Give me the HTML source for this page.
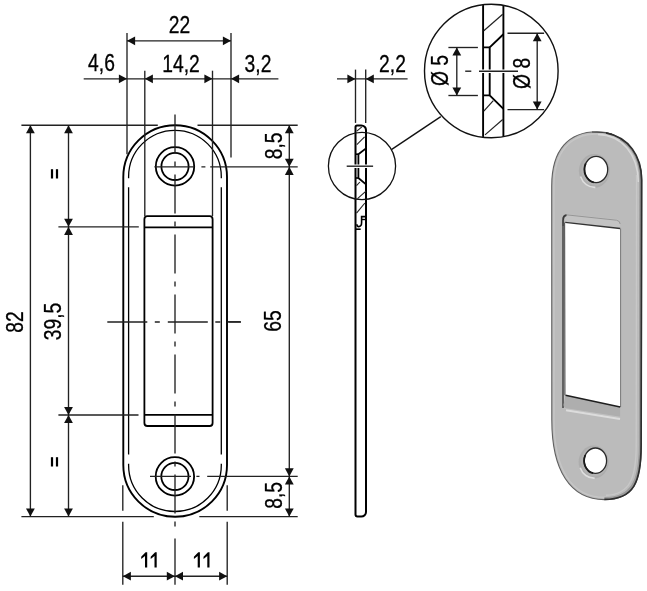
<!DOCTYPE html>
<html><head><meta charset="utf-8"><style>
html,body{margin:0;padding:0;background:#fff;}
svg{display:block;}
text{font-family:"Liberation Sans",sans-serif;fill:#000;stroke:#000;stroke-width:0.3px;}
svg{will-change:transform;}
</style></head><body>
<svg width="647" height="591" viewBox="0 0 647 591">
<rect width="647" height="591" fill="#fff"/>
<path d="M123.3,177.05 A51.85,51.85 0 0 1 227.0,177.05 L227.0,464.94999999999993 A51.85,51.85 0 0 1 123.3,464.94999999999993 Z" fill="none" stroke="#000" stroke-width="1.9"/>
<path d="M128.6,178.15000000000003 L128.6,176.65000000000003 A46.35000000000001,46.35000000000001 0 0 1 221.3,176.65000000000003 L221.3,178.15000000000003" fill="none" stroke="#000" stroke-width="1.3"/>
<path d="M221.3,463.65 L221.3,465.15 A46.35000000000001,46.35000000000001 0 0 1 128.6,465.15 L128.6,463.65" fill="none" stroke="#000" stroke-width="1.3"/>
<line x1="128.6" y1="187.2" x2="128.6" y2="454.5" stroke="#000" stroke-width="1.3" />
<line x1="221.3" y1="187.2" x2="221.3" y2="454.5" stroke="#000" stroke-width="1.3" />
<circle cx="175.0" cy="166.4" r="19.2" fill="none" stroke="#000" stroke-width="1.8"/>
<circle cx="175.0" cy="166.4" r="13.6" fill="none" stroke="#000" stroke-width="1.8"/>
<circle cx="174.9" cy="476.4" r="19.2" fill="none" stroke="#000" stroke-width="1.8"/>
<circle cx="174.9" cy="476.4" r="13.6" fill="none" stroke="#000" stroke-width="1.8"/>
<rect x="144.4" y="216.2" width="68.19999999999999" height="209.8" rx="3" ry="3" fill="none" stroke="#000" stroke-width="1.8"/>
<line x1="144.4" y1="227.4" x2="212.6" y2="227.4" stroke="#000" stroke-width="1.8" />
<line x1="144.4" y1="414.9" x2="212.6" y2="414.9" stroke="#000" stroke-width="1.8" />
<line x1="175" y1="114.4" x2="175" y2="529" stroke="#222" stroke-width="1.35" stroke-dasharray="39 8 5 8"/>
<line x1="107.3" y1="322" x2="241" y2="322" stroke="#222" stroke-width="1.35" stroke-dasharray="40 7.5 5 8"/>
<line x1="154.4" y1="166.8" x2="210.2" y2="166.8" stroke="#222" stroke-width="1.35" stroke-dasharray="40 7 4 6"/>
<line x1="210.2" y1="166.8" x2="297.7" y2="166.8" stroke="#222" stroke-width="1.35" />
<line x1="150" y1="476.4" x2="207.2" y2="476.4" stroke="#222" stroke-width="1.35" stroke-dasharray="41 5.4 3.1 7.7"/>
<line x1="207.2" y1="476.4" x2="297.7" y2="476.4" stroke="#222" stroke-width="1.35" />
<line x1="127" y1="33" x2="127" y2="154.3" stroke="#222" stroke-width="1.35" />
<line x1="231" y1="33" x2="231" y2="157.5" stroke="#222" stroke-width="1.35" />
<line x1="144.8" y1="70.7" x2="144.8" y2="216" stroke="#222" stroke-width="1.35" />
<line x1="212.5" y1="70.7" x2="212.5" y2="216" stroke="#222" stroke-width="1.35" />
<line x1="127" y1="40.8" x2="231" y2="40.8" stroke="#222" stroke-width="1.35" />
<polygon points="127.0,40.8 135.1,36.4 135.1,45.2" fill="#111"/>
<polygon points="231.0,40.8 222.9,36.4 222.9,45.2" fill="#111"/>
<line x1="83.7" y1="78.8" x2="278.4" y2="78.8" stroke="#222" stroke-width="1.35" />
<polygon points="127.0,78.8 118.9,74.4 118.9,83.2" fill="#111"/>
<polygon points="144.8,78.8 152.9,74.4 152.9,83.2" fill="#111"/>
<polygon points="212.5,78.8 204.4,74.4 204.4,83.2" fill="#111"/>
<polygon points="231.0,78.8 239.1,74.4 239.1,83.2" fill="#111"/>
<text transform="translate(179.5,25) rotate(0) scale(0.82,1)" x="0" y="8.34" font-size="23.5" text-anchor="middle">22</text>
<text transform="translate(101.5,62.5) rotate(0) scale(0.82,1)" x="0" y="8.34" font-size="23.5" text-anchor="middle">4,6</text>
<text transform="translate(181,63.4) rotate(0) scale(0.82,1)" x="0" y="8.34" font-size="23.5" text-anchor="middle">14,2</text>
<text transform="translate(258,63.4) rotate(0) scale(0.82,1)" x="0" y="8.34" font-size="23.5" text-anchor="middle">3,2</text>
<line x1="21.4" y1="125.2" x2="157.8" y2="125.2" stroke="#222" stroke-width="1.35" />
<line x1="197.5" y1="125.2" x2="297.7" y2="125.2" stroke="#222" stroke-width="1.35" />
<line x1="21.4" y1="516.6" x2="153.8" y2="516.6" stroke="#222" stroke-width="1.35" />
<line x1="199.3" y1="516.6" x2="297.7" y2="516.6" stroke="#222" stroke-width="1.35" />
<line x1="58.4" y1="226.8" x2="138.8" y2="226.8" stroke="#222" stroke-width="1.35" />
<line x1="58.4" y1="415" x2="138.5" y2="415" stroke="#222" stroke-width="1.35" />
<line x1="30.4" y1="125.2" x2="30.4" y2="516.6" stroke="#222" stroke-width="1.35" />
<polygon points="30.4,125.2 26.0,133.3 34.8,133.3" fill="#111"/>
<polygon points="30.4,516.6 26.0,508.5 34.8,508.5" fill="#111"/>
<line x1="68.5" y1="125.2" x2="68.5" y2="516.6" stroke="#222" stroke-width="1.35" />
<polygon points="68.5,125.2 64.1,133.3 72.9,133.3" fill="#111"/>
<polygon points="68.5,226.8 64.1,218.7 72.9,218.7" fill="#111"/>
<polygon points="68.5,226.8 64.1,234.9 72.9,234.9" fill="#111"/>
<polygon points="68.5,415.0 64.1,406.9 72.9,406.9" fill="#111"/>
<polygon points="68.5,415.0 64.1,423.1 72.9,423.1" fill="#111"/>
<polygon points="68.5,516.6 64.1,508.5 72.9,508.5" fill="#111"/>
<text transform="translate(15,322) rotate(-90) scale(0.82,1)" x="0" y="8.34" font-size="23.5" text-anchor="middle">82</text>
<text transform="translate(52.3,321.5) rotate(-90) scale(0.82,1)" x="0" y="8.34" font-size="23.5" text-anchor="middle">39,5</text>
<rect x="50.9" y="169.2" width="2.2" height="9.3" fill="#000"/>
<rect x="55.9" y="169.2" width="2.2" height="9.3" fill="#000"/>
<rect x="50.9" y="457.2" width="2.2" height="9.3" fill="#000"/>
<rect x="55.9" y="457.2" width="2.2" height="9.3" fill="#000"/>
<line x1="289.3" y1="125.2" x2="289.3" y2="516.6" stroke="#222" stroke-width="1.35" />
<polygon points="289.3,125.2 284.9,133.3 293.7,133.3" fill="#111"/>
<polygon points="289.3,166.8 284.9,158.7 293.7,158.7" fill="#111"/>
<polygon points="289.3,166.8 284.9,174.9 293.7,174.9" fill="#111"/>
<polygon points="289.3,476.4 284.9,468.3 293.7,468.3" fill="#111"/>
<polygon points="289.3,476.4 284.9,484.5 293.7,484.5" fill="#111"/>
<polygon points="289.3,516.6 284.9,508.5 293.7,508.5" fill="#111"/>
<text transform="translate(273.5,145.8) rotate(-90) scale(0.82,1)" x="0" y="8.34" font-size="23.5" text-anchor="middle">8,5</text>
<text transform="translate(273,321) rotate(-90) scale(0.82,1)" x="0" y="8.34" font-size="23.5" text-anchor="middle">65</text>
<text transform="translate(273.5,495.3) rotate(-90) scale(0.82,1)" x="0" y="8.34" font-size="23.5" text-anchor="middle">8,5</text>
<line x1="227.6" y1="321.8" x2="240.5" y2="321.8" stroke="#222" stroke-width="1.35" />
<line x1="122.8" y1="485.3" x2="122.8" y2="584.8" stroke="#222" stroke-width="1.35" stroke-dasharray="25.5 11 70"/>
<line x1="227.2" y1="485.3" x2="227.2" y2="584.8" stroke="#222" stroke-width="1.35" stroke-dasharray="25.5 11 70"/>
<line x1="122.8" y1="576.2" x2="227.2" y2="576.2" stroke="#222" stroke-width="1.35" />
<line x1="175" y1="538.4" x2="175" y2="584.8" stroke="#222" stroke-width="1.35" />
<polygon points="122.8,576.2 130.9,571.8 130.9,580.6" fill="#111"/>
<polygon points="174.9,576.2 166.8,571.8 166.8,580.6" fill="#111"/>
<polygon points="174.9,576.2 183.0,571.8 183.0,580.6" fill="#111"/>
<polygon points="227.2,576.2 219.1,571.8 219.1,580.6" fill="#111"/>
<polygon points="147.2,552.3 147.2,567.5 145.0,567.5 145.0,555.9 141.2,558.9 141.2,556.6999999999999 145.6,552.3" fill="#000"/>
<polygon points="156.7,552.3 156.7,567.5 154.5,567.5 154.5,555.9 150.7,558.9 150.7,556.6999999999999 155.1,552.3" fill="#000"/>
<polygon points="199.9,552.3 199.9,567.5 197.70000000000002,567.5 197.70000000000002,555.9 193.9,558.9 193.9,556.6999999999999 198.3,552.3" fill="#000"/>
<polygon points="209.5,552.3 209.5,567.5 207.3,567.5 207.3,555.9 203.5,558.9 203.5,556.6999999999999 207.9,552.3" fill="#000"/>
<line x1="355.5" y1="69.6" x2="355.5" y2="122.9" stroke="#222" stroke-width="1.35" />
<line x1="365.7" y1="69.6" x2="365.7" y2="122.9" stroke="#222" stroke-width="1.35" />
<line x1="337" y1="78.9" x2="407.6" y2="78.9" stroke="#222" stroke-width="1.35" />
<polygon points="355.5,78.9 347.4,74.5 347.4,83.3" fill="#111"/>
<polygon points="365.7,78.9 373.8,74.5 373.8,83.3" fill="#111"/>
<text transform="translate(392.5,63.5) rotate(0) scale(0.82,1)" x="0" y="8.34" font-size="23.5" text-anchor="middle">2,2</text>
<path d="M355.5,127 Q355.5,125.4 357,125.4 L361.3,125.4 A4.7,4.7 0 0 1 366,130.1 L366,164.4 M366,168.1 L366,511.9 A4.7,4.7 0 0 1 361.3,516.6 L357.5,516.6 A2,2 0 0 1 355.5,514.6 L355.5,168.1 M355.5,164.4 L355.5,127" fill="none" stroke="#000" stroke-width="2.0"/>
<path d="M366,148.4 L358.4,154.2 L358.4,164.4 M358.4,168.1 L358.4,178 L366,184.4" fill="none" stroke="#000" stroke-width="1.8"/>
<line x1="355.5" y1="154.2" x2="358.4" y2="154.2" stroke="#000" stroke-width="1.6" />
<line x1="355.5" y1="178" x2="358.4" y2="178" stroke="#000" stroke-width="1.6" />
<line x1="356.8" y1="131.2" x2="361.9" y2="126.8" stroke="#222" stroke-width="1.1" />
<line x1="356.8" y1="144.7" x2="364.6" y2="136.9" stroke="#222" stroke-width="1.1" />
<line x1="356.5" y1="185.7" x2="359.9" y2="182" stroke="#222" stroke-width="1.1" />
<line x1="357.5" y1="198.6" x2="366" y2="191.1" stroke="#222" stroke-width="1.1" />
<line x1="356.5" y1="213.2" x2="364.9" y2="203" stroke="#222" stroke-width="1.1" />
<path d="M366,216.6 L361.6,216.6 L361.6,222.6 Q361.6,226.6 358.7,226.6 Q356.9,226.6 356.9,224.3" fill="none" stroke="#000" stroke-width="1.6"/>
<line x1="361.6" y1="219.5" x2="366" y2="219.5" stroke="#000" stroke-width="1.4" />
<line x1="355.5" y1="229.2" x2="360.7" y2="229.2" stroke="#000" stroke-width="1.6" />
<line x1="346.7" y1="166.2" x2="373.1" y2="166.2" stroke="#222" stroke-width="1.4" />
<circle cx="362" cy="166" r="33.6" fill="none" stroke="#111" stroke-width="1.3"/>
<line x1="391.4" y1="149.6" x2="440.8" y2="116.6" stroke="#111" stroke-width="1.4" />
<defs><clipPath id="dc"><circle cx="491.5" cy="71" r="66.5"/></clipPath></defs>
<g clip-path="url(#dc)">
<path d="M483.1,0 L483.1,69.6 M483.1,72.9 L483.1,140 M503.4,0 L503.4,69.6 M503.4,72.9 L503.4,140" fill="none" stroke="#000" stroke-width="1.9"/>
<path d="M503.4,34.3 L489.7,47.3 L489.7,69.6 M489.7,72.9 L489.7,95.4 L503.4,108.9" fill="none" stroke="#000" stroke-width="1.9"/>
<line x1="483.1" y1="47.3" x2="489.7" y2="47.3" stroke="#000" stroke-width="1.7" />
<line x1="483.1" y1="95.4" x2="489.7" y2="95.4" stroke="#000" stroke-width="1.7" />
<line x1="483.8" y1="30.8" x2="502.7" y2="14.2" stroke="#222" stroke-width="1.2" />
<line x1="483.8" y1="111.2" x2="493.3" y2="100.6" stroke="#222" stroke-width="1.2" />
<line x1="485" y1="134.9" x2="502.7" y2="119.5" stroke="#222" stroke-width="1.2" />
</g>
<circle cx="491.3" cy="71" r="66.8" fill="none" stroke="#111" stroke-width="1.4"/>
<line x1="479" y1="71.2" x2="518" y2="71.2" stroke="#222" stroke-width="1.5" />
<line x1="465.2" y1="71.2" x2="471.3" y2="71.2" stroke="#222" stroke-width="1.4" />
<line x1="448.4" y1="47.5" x2="477.9" y2="47.5" stroke="#222" stroke-width="1.35" />
<line x1="448.4" y1="95.5" x2="477.9" y2="95.5" stroke="#222" stroke-width="1.35" />
<line x1="456.8" y1="47.5" x2="456.8" y2="95.5" stroke="#222" stroke-width="1.35" />
<polygon points="456.8,47.5 452.4,55.6 461.2,55.6" fill="#111"/>
<polygon points="456.8,95.5 452.4,87.4 461.2,87.4" fill="#111"/>
<line x1="507.5" y1="33.2" x2="544.1" y2="33.2" stroke="#222" stroke-width="1.35" />
<line x1="507.5" y1="109.6" x2="544.1" y2="109.6" stroke="#222" stroke-width="1.35" />
<line x1="537.2" y1="33.2" x2="537.2" y2="109.6" stroke="#222" stroke-width="1.35" />
<polygon points="537.2,33.2 532.8,41.3 541.6,41.3" fill="#111"/>
<polygon points="537.2,109.6 532.8,101.5 541.6,101.5" fill="#111"/>
<text transform="translate(439.8,70.5) rotate(-90) scale(0.82,1)" x="0" y="8.34" font-size="23.5" text-anchor="middle">Ø 5</text>
<text transform="translate(521.3,73.4) rotate(-90) scale(0.82,1)" x="0" y="8.34" font-size="23.5" text-anchor="middle">Ø 8</text>
<path d="M551.7,186 C551.7,149.5 568.9,131.8 597,131.8 C621.7,131.8 641.8,152.3 641.8,180 L641.3,445 C641.3,482 634,499.6 604.4,499.6 C570,499.6 551.8,470 551.8,420 Z" fill="#bbbbbb" stroke="#606060" stroke-width="1.1"/>
<path d="M553.9,186 C553.9,151.5 570.4,134 597,134 C620.6,134 639.5,153.5 639.5,180 L639,445 C639,480.5 632.5,497.3 604.4,497.3 C571.5,497.3 554,469 554,420 Z" fill="none" stroke="#c6c6c6" stroke-width="1.4"/>
<path d="M620,139.5 C633,147 640.2,160 640.2,180 L639.7,445 C639.7,480.5 632.5,498 604.4,498" fill="none" stroke="#9a9a9a" stroke-width="2.0"/>
<path d="M598,134.6 C622,135.5 637.8,154 638.3,182" fill="none" stroke="#d8d8d8" stroke-width="1.5"/>
<path d="M636.6,175 L636.2,445 C636.2,478 630,494.5 606,495.3" fill="none" stroke="#c8c8c8" stroke-width="1.4"/>
<path d="M592,132 C600,132 606,132.6 612,134" fill="none" stroke="#444" stroke-width="1.1"/>
<path d="M606,132.9 C629,137.5 641.6,156 641.6,180 L641.1,445 C641.1,482 634,499.4 604.4,499.4" fill="none" stroke="#2e2e2e" stroke-width="1.7"/>
<ellipse cx="594.3000000000001" cy="170.9" rx="15.399999999999999" ry="16.9" fill="#9e9e9e" opacity="0.45"/>
<ellipse cx="595.2" cy="170.3" rx="13.8" ry="15.3" fill="#b4b4b4"/>
<path d="M595.35,187.34 A15.0,16.5 0 0 1 580.50,176.61" fill="none" stroke="#dedede" stroke-width="1.6"/>
<ellipse cx="596.1" cy="169.5" rx="11.6" ry="13.1" fill="#fff" stroke="#2a2a2a" stroke-width="1.3"/>
<path d="M593.78,182.34 A11.6,13.1 0 0 1 585.66,163.60" fill="none" stroke="#1a1a1a" stroke-width="1.8"/>
<ellipse cx="593.6" cy="462.09999999999997" rx="15.0" ry="16.5" fill="#9e9e9e" opacity="0.45"/>
<ellipse cx="594.5" cy="461.5" rx="13.399999999999999" ry="14.899999999999999" fill="#b4b4b4"/>
<path d="M594.63,478.14 A14.6,16.099999999999998 0 0 1 580.18,467.67" fill="none" stroke="#dedede" stroke-width="1.6"/>
<ellipse cx="595.4" cy="460.7" rx="11.2" ry="12.7" fill="#fff" stroke="#2a2a2a" stroke-width="1.3"/>
<path d="M593.16,473.15 A11.2,12.7 0 0 1 585.32,454.99" fill="none" stroke="#1a1a1a" stroke-width="1.8"/>
<path d="M562,405.5 L562,217.7 Q562,213.7 566,213.9 L616.5,219.3 Q620.2,219.8 620.2,223.5 L620.2,417.5 L566,409 Q562,408.4 562,405.5 Z" fill="#c3c3c3" stroke="none"/>
<path d="M563,408 L563,218 Q563,214.7 566,214.8 L616.5,220.2 Q620,220.8 620.2,224" fill="none" stroke="#969696" stroke-width="1.0"/>
<path d="M563.2,226 L563.2,219 Q563.4,215.6 566.5,215.2" fill="none" stroke="#3a3a3a" stroke-width="1.8"/>
<path d="M563,408 L563,220" fill="none" stroke="#505050" stroke-width="1.6"/>
<path d="M565.2,222.3 L620.2,228.5 L620.2,407 L565.5,395.2 Z" fill="#fff"/>
<path d="M565.2,222.3 L620.2,228.5" fill="none" stroke="#333" stroke-width="1.3"/>
<path d="M564.6,222.5 L564.9,395.2" fill="none" stroke="#555" stroke-width="1.0"/>
<path d="M620.6,228.5 L620.6,407" fill="none" stroke="#7a7a7a" stroke-width="1.0"/>
<path d="M565.5,395.2 L620.2,407 L620.2,416.8 L566,408.2 Q563.5,407.6 563.5,405 Z" fill="#aeaeae"/>
<path d="M565.5,395.2 L620.2,407" fill="none" stroke="#1e1e1e" stroke-width="1.4"/>
<path d="M566,410.3 L620,418.9" fill="none" stroke="#dcdcdc" stroke-width="2.0"/>
</svg>
</body></html>
